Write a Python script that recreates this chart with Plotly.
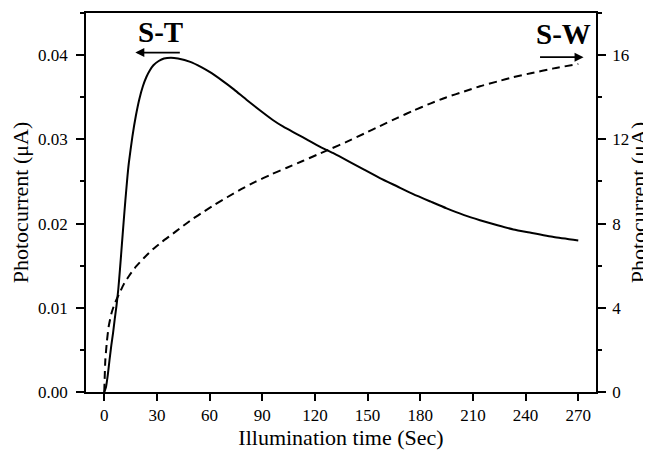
import plotly.graph_objects as go

# S-T (left axis, µA)
t_st = [0, 1, 2, 3, 4, 5, 6, 7, 8, 9, 10, 11, 12, 13, 14, 16, 18, 20, 22, 24, 26, 28,
        31, 34, 38, 42, 49, 55, 60, 67, 74, 81, 89, 96, 102, 110, 116, 123, 131, 140,
        148, 157, 167, 176, 186, 195, 205, 214, 224, 233, 243, 256, 270]
i_st = [0.0, 0.0006, 0.0020, 0.0038, 0.0055, 0.0070, 0.0087, 0.0103, 0.0122, 0.0147,
        0.0174, 0.0201, 0.0227, 0.0251, 0.0272, 0.0303, 0.0328, 0.0348, 0.0363, 0.0374,
        0.0382, 0.0388, 0.0393, 0.0396, 0.0397, 0.0396, 0.0392, 0.0386, 0.0380, 0.0370,
        0.0359, 0.0347, 0.0334, 0.0323, 0.0315, 0.0306, 0.0299, 0.0291, 0.0283, 0.0273,
        0.0264, 0.0254, 0.0244, 0.0235, 0.0226, 0.0218, 0.0210, 0.0204, 0.0198, 0.0193,
        0.0189, 0.0184, 0.0180]

# S-W (right axis, µA)
t_sw = [0, 0.6, 1.5, 2.5, 4, 5.3, 7, 9, 11, 14, 18, 23, 28, 33, 38, 44, 50, 57, 63, 70,
        78, 86, 95, 104, 113, 121, 129, 138, 148, 157, 167, 176, 186, 195, 205, 214, 224,
        233, 243, 256, 270]
i_sw = [0.0, 1.5, 2.4, 3.1, 3.7, 4.05, 4.4, 4.75, 5.1, 5.5, 5.95, 6.4, 6.8, 7.14, 7.45,
        7.83, 8.2, 8.58, 8.9, 9.25, 9.63, 9.98, 10.33, 10.65, 10.97, 11.26, 11.55, 11.88,
        12.27, 12.63, 13.02, 13.36, 13.71, 14.0, 14.27, 14.52, 14.75, 14.95, 15.14, 15.37,
        15.58]

x_ticks = [0, 30, 60, 90, 120, 150, 180, 210, 240, 270]
y1_ticks = [0.00, 0.01, 0.02, 0.03, 0.04]
y1_labels = ["0.00", "0.01", "0.02", "0.03", "0.04"]
y2_ticks = [0, 4, 8, 12, 16]

FONT = "Liberation Serif, Times New Roman, serif"

fig = go.Figure()
fig.add_trace(go.Scatter(x=t_st, y=i_st, mode="lines", name="S-T",
                         line=dict(color="black", width=2, shape="spline", smoothing=0.5),
                         yaxis="y"))
fig.add_trace(go.Scatter(x=t_sw, y=i_sw, mode="lines", name="S-W",
                         line=dict(color="black", width=2, dash="8px,5px",
                                   shape="spline", smoothing=0.5),
                         yaxis="y2"))

axis_common = dict(showgrid=False, zeroline=False, linecolor="black", linewidth=1.5,
                   ticks="outside", tickcolor="black", tickwidth=1.5, automargin=False,
                   tickfont=dict(family=FONT, size=17, color="black"))
minor_common = dict(ticks="outside", ticklen=4, tickcolor="black", tickwidth=1.5,
                    showgrid=False)

# the page body adds an 8px offset, so the figure is 8px smaller on each axis
fig.update_layout(
    width=643, height=442,
    margin=dict(l=78, r=55, t=5, b=58),
    paper_bgcolor="white", plot_bgcolor="white",
    showlegend=False,
    font=dict(family=FONT, color="black"),
    xaxis=dict(range=[-10.4, 280.1], tickvals=x_ticks, ticklen=7, mirror=True,
               ticklabelstandoff=0,
               title=dict(text="Illumination time (Sec)", font=dict(family=FONT, size=22),
                          standoff=6),
               **axis_common),
    yaxis=dict(range=[0, 0.045], tickvals=y1_ticks, ticktext=y1_labels, ticklen=8,
               ticklabelstandoff=5,
               minor=dict(dtick=0.005, **minor_common),
               title=dict(text="Photocurrent (μA)", font=dict(family=FONT, size=22),
                          standoff=8),
               **axis_common),
    yaxis2=dict(range=[0, 18], tickvals=y2_ticks, ticklen=8, overlaying="y", side="right",
                ticklabelstandoff=3,
                minor=dict(dtick=2, **minor_common),
                title=dict(text="Photocurrent (μA)", font=dict(family=FONT, size=22),
                           standoff=3),
                **axis_common),
)

arrow = dict(text="", showarrow=True, arrowhead=2, arrowsize=1, arrowwidth=1.8,
             arrowcolor="black", ay=0)
fig.add_annotation(x=17.7, y=0.0403, xref="x", yref="y", ax=46, **arrow)
fig.add_annotation(x=31.9, y=0.04276, xref="x", yref="y", text="<b>S-T</b>",
                   showarrow=False, font=dict(family=FONT, size=29, color="black"))
fig.add_annotation(x=273, y=15.9, xref="x", yref="y2", ax=-45, **arrow)
fig.add_annotation(x=261.5, y=17.0, xref="x", yref="y2", text="<b>S-W</b>",
                   showarrow=False, font=dict(family=FONT, size=29, color="black"))

fig.write_html("out.html")
